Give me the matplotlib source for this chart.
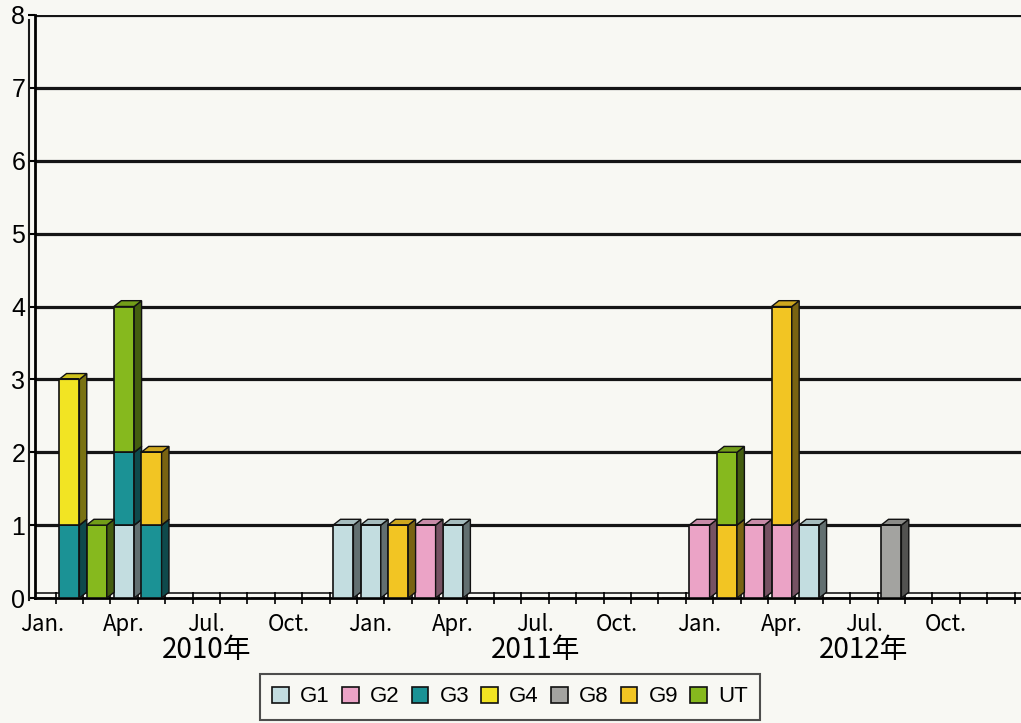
import matplotlib
matplotlib.use('Agg')
import matplotlib.pyplot as plt
from matplotlib.patches import Patch
from matplotlib.lines import Line2D
import numpy as np

plt.rcParams['font.family'] = ['Liberation Sans', 'Noto Sans CJK JP', 'DejaVu Sans']

# 2010年1月 〜 2012年12月 (36ヶ月)
n_months = 36
series = ['G1', 'G2', 'G3', 'G4', 'G8', 'G9', 'UT']
colors = ['#c3dde0', '#eba3c6', '#1b9295', '#f2e423', '#a3a3a0', '#f2c523', '#86b91e']

# 月インデックス -> 件数
G1 = {3: 1, 11: 1, 12: 1, 15: 1, 28: 1}
G2 = {14: 1, 24: 1, 26: 1, 27: 1}
G3 = {1: 1, 3: 1, 4: 1}
G4 = {1: 2}
G8 = {31: 1}
G9 = {4: 1, 13: 1, 25: 1, 27: 3}
UT = {2: 1, 3: 2, 25: 1}
data = [G1, G2, G3, G4, G8, G9, UT]

month_labels = ['Jan.', 'Apr.', 'Jul.', 'Oct.'] * 3
year_labels = ['2010年', '2011年', '2012年']

bg = '#f8f8f3'
W, H = 1021, 723
fig = plt.figure(figsize=(W / 100, H / 100), dpi=100, facecolor=bg)
ax = fig.add_axes([35 / W, (H - 598) / H, (W - 35) / W, (598 - 15) / H])
ax.set_facecolor(bg)

x = np.arange(n_months)
w = 0.74      # 前面の幅
dx = 0.27     # 奥行き（横方向）
dy = 0.08     # 奥行き（縦方向）


def shade(c, f):
    r, g, b = matplotlib.colors.to_rgb(c)
    return (r * f, g * f, b * f)


bottom = np.zeros(n_months)
for name, d, c in zip(series, data, colors):
    vals = np.array([d.get(i, 0) for i in range(n_months)], dtype=float)
    ax.bar(x, vals, width=w, bottom=bottom, color=c, edgecolor='#111111',
           linewidth=1.2, zorder=3)
    for i in np.nonzero(vals)[0]:
        b, h = bottom[i], vals[i]
        xr = x[i] + w / 2
        xl = x[i] - w / 2
        # 側面
        ax.fill([xr, xr + dx, xr + dx, xr], [b, b + dy, b + h + dy, b + h],
                color=shade(c, 0.5), edgecolor='#111111', linewidth=1.0, zorder=3)
        # 上面
        ax.fill([xl, xr, xr + dx, xl + dx], [b + h, b + h, b + h + dy, b + h + dy],
                color=shade(c, 0.85), edgecolor='#111111', linewidth=1.0, zorder=3)
    bottom += vals

ax.set_xlim(-0.25, -0.25 + (W - 35) / 27.4)
ax.set_ylim(0, 8)

for yv in range(1, 9):
    ax.axhline(yv, color='#151515', linewidth=2.3, zorder=1)
ax.axhline(0.07, color='#1a1a1a', linewidth=1.2, zorder=1)

ax.set_yticks(range(0, 9))
ax.set_yticklabels([str(v) for v in range(0, 9)], fontsize=18)
ax.tick_params(axis='y', length=5, width=1.5, pad=2, direction='out')

ax.set_xticks(x[::3])
ax.set_xticklabels(month_labels, fontsize=16, family=['Noto Sans CJK JP', 'DejaVu Sans'])
ax.set_xticks(x + 0.5, minor=True)
ax.tick_params(axis='x', which='major', length=0, pad=11)
ax.tick_params(axis='x', which='minor', length=8, width=1.2, direction='inout')

for i, lab in enumerate(year_labels):
    ax.text(6 + 12 * i, -0.72, lab, ha='center', va='center', fontsize=20,
            family=['Noto Sans CJK JP', 'DejaVu Sans'])

for s in ['top', 'right']:
    ax.spines[s].set_visible(False)
ax.spines['left'].set_linewidth(2)
ax.spines['bottom'].set_linewidth(2)

# 左壁の二重線
fig.add_artist(Line2D([29 / W, 29 / W], [(H - 600) / H, (H - 20) / H],
                      color='#1a1a1a', linewidth=1.5))

handles = [Patch(facecolor=c, edgecolor='#111111', linewidth=1.2) for c in colors]
leg = fig.legend(handles, series, loc='center', ncol=7, bbox_to_anchor=(510 / W, 26 / H),
                 fontsize=16, frameon=True, fancybox=False, edgecolor='#222222',
                 facecolor=bg, handlelength=0.75, handleheight=0.75, handletextpad=0.5,
                 columnspacing=0.55, borderpad=0.55)
leg.get_frame().set_linewidth(1.5)

fig.savefig('out.png', dpi=100, facecolor=bg)
